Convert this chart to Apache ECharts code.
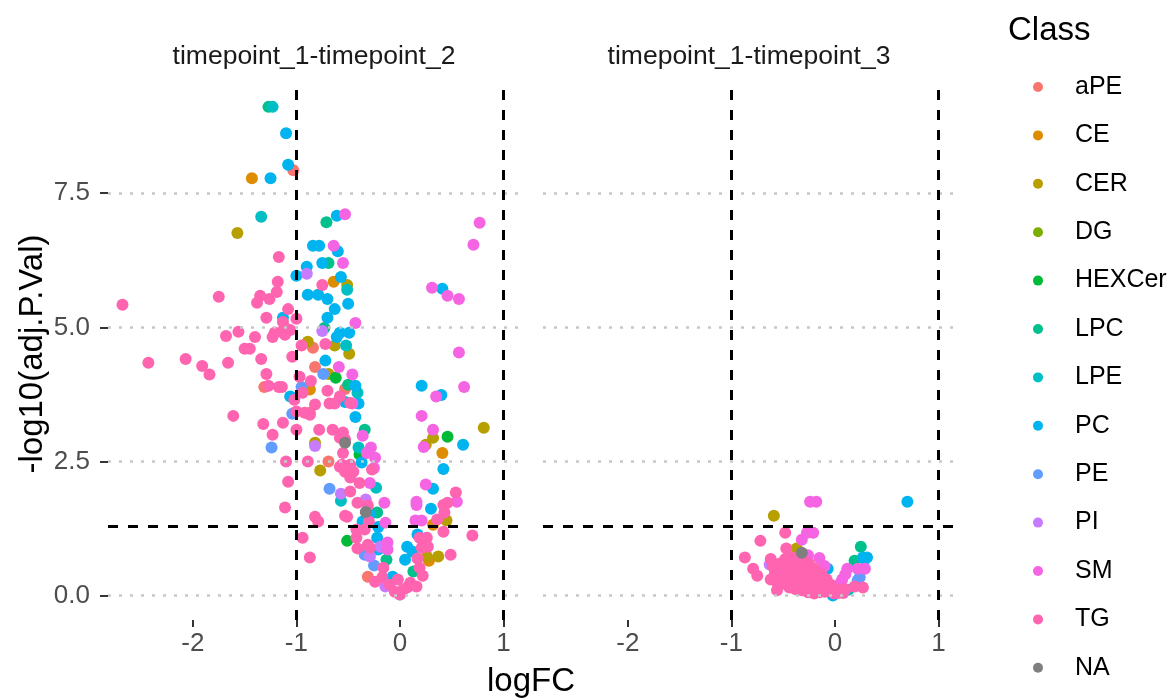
<!DOCTYPE html>
<html>
<head>
<meta charset="utf-8">
<script src="https://cdn.jsdelivr.net/npm/echarts@6/dist/echarts.min.js"></script>
<style>
html, body { margin: 0; padding: 0; background: #fff; }
#chart { width: 1175px; height: 700px; }
</style>
</head>
<body>
<div id="chart"></div>
<script>
// facet labels, classes, ticks
var facets = ['timepoint_1-timepoint_2', 'timepoint_1-timepoint_3'];
var classNames = ['aPE', 'CE', 'CER', 'DG', 'HEXCer', 'LPC', 'LPE', 'PC', 'PE', 'PI', 'SM', 'TG', 'NA'];
var xTicks = [-2, -1, 0, 1];
var yTicks = [0, 2.5, 5, 7.5];
var fcCut = [-1, 1];
var pCut = 1.3;

// [logFC, -log10(adj.P.Val)] - timepoint_1-timepoint_2
var aPE_t2 = [[-1.03,7.93],[-0.84,4.62],[-0.82,4.26],[-0.53,3.85],[-1.31,3.89],[-0.87,3.41],[-0.69,2.50],[-0.31,0.35]];
var CE_t2 = [[-1.43,7.78],[-0.64,5.85],[-0.87,3.84],[0.41,2.66],[0.32,1.32],[0.28,0.65]];
var CER_t2 = [[-1.57,6.76],[-0.51,5.79],[-0.89,4.73],[-0.63,4.66],[-0.49,4.51],[-0.69,4.13],[0.81,3.13],[0.32,2.94],
    [0.25,2.81],[-0.82,2.85],[-0.77,2.33],[0.45,1.40],[0.26,0.73],[0.37,0.73]];
var DG_t2 = [];
var HEXCer_t2 = [[-0.62,4.06],[0.46,2.96],[-0.39,2.63],[-0.51,1.02]];
var LPC_t2 = [[-1.27,9.11],[-0.71,6.96],[-0.69,6.20],[-0.73,4.99],[-0.50,3.93],[-0.34,3.09],[-0.22,1.55],[-0.13,0.67],[0.13,0.45]];
var LPE_t2 = [[-1.23,9.11],[-1.34,7.06],[-0.51,5.70],[-0.52,4.66],[-0.41,3.78],[-0.40,2.76],[-0.57,1.77],[-0.23,2.01]];
var PC_t2 = [[-1.10,8.62],[-1.08,8.03],[-1.25,7.78],[-0.61,7.08],[-0.84,6.52],[-0.78,6.52],[-0.60,6.42],[-0.75,6.20],
    [-0.90,6.13],[-1.00,5.96],[-0.57,5.94],[0.41,5.72],[-0.89,5.61],[-0.79,5.61],[-0.70,5.53],[-0.50,5.44],
    [-0.63,5.34],[-0.70,5.18],[-1.13,5.18],[-0.58,4.90],[-0.49,4.90],[-0.61,4.82],[-0.72,4.38],[-0.43,3.91],
    [-1.06,3.71],[-0.53,3.61],[-0.40,3.58],[-0.43,3.33],[0.21,3.91],[0.40,3.74],[0.61,2.81],[0.42,2.36],
    [-0.37,2.48],[0.32,1.99],[0.30,1.62],[-0.29,1.51],[-0.36,1.38],[-0.21,1.28],[-0.22,1.08],[-0.21,0.86],
    [-0.07,0.35],[0.17,1.14],[0.07,0.91],[0.12,0.82],[0.05,0.67]];
var PE_t2 = [[-0.74,4.13],[-0.95,3.89],[-1.04,3.39],[-1.24,2.76],[-0.68,1.99],[-0.34,0.76],[-0.25,0.56],[0.00,0.02]];
var PI_t2 = [[-0.90,6.00],[-0.75,4.93],[-0.82,2.79],[-0.57,1.90],[-0.33,1.79],[-0.29,0.73],[-0.19,0.91],[-0.14,0.17]];
var SM_t2 = [[-0.53,7.11],[0.77,6.95],[0.71,6.54],[-0.64,6.52],[-0.55,6.20],[0.31,5.74],[0.46,5.59],[0.57,5.53],
    [-0.43,5.08],[-0.59,4.26],[-0.46,4.12],[0.57,4.53],[0.62,3.89],[0.35,3.71],[-0.46,3.58],[0.21,3.35],
    [0.32,3.09],[-0.36,2.98],[0.23,2.77],[-0.28,2.76],[-0.32,2.66],[-0.24,2.57],[-0.25,2.38],[-0.29,2.10],
    [0.25,2.07],[-0.15,1.73],[0.55,1.75],[0.16,1.75],[0.16,1.69],[0.15,1.40],[0.21,1.40],[-0.14,1.36],
    [-0.12,0.99],[-0.12,0.86]];
var TG_t2 = [[-1.17,6.31],[-1.18,5.85],[-2.68,5.42],[-1.75,5.57],[-1.35,5.59],[-1.38,5.46],[-1.26,5.53],[-1.19,5.66],
    [-0.75,5.79],[-1.08,5.34],[-1.29,5.18],[-1.00,5.16],[-1.13,5.10],[-1.68,4.84],[-1.56,4.92],[-1.40,4.82],
    [-1.21,4.90],[-1.23,4.82],[-1.14,4.92],[-1.11,4.86],[-1.06,4.95],[-1.11,4.99],[-0.95,4.66],[-1.50,4.60],
    [-1.45,4.60],[-0.72,4.69],[-2.43,4.34],[-2.07,4.41],[-1.91,4.28],[-1.84,4.12],[-1.66,4.34],[-1.34,4.41],
    [-1.04,4.45],[-1.29,4.13],[-0.97,4.08],[-1.27,3.91],[-1.17,3.89],[-0.86,4.00],[-1.14,3.89],[-0.70,3.82],
    [-0.94,3.78],[-1.02,3.65],[-0.58,3.71],[-0.68,3.58],[-0.63,3.58],[-0.48,3.59],[-0.82,3.56],[-1.00,3.43],
    [-0.92,3.41],[-0.87,3.37],[-1.61,3.35],[-1.32,3.20],[-1.13,3.22],[-1.23,3.00],[-1.00,3.09],[-0.78,3.09],
    [-0.65,3.09],[-0.55,3.04],[-0.58,2.94],[-0.53,2.91],[-1.10,2.50],[-0.89,2.50],[-0.56,2.44],[-0.48,2.44],
    [-0.27,2.35],[-0.55,2.66],[-1.08,2.12],[-1.11,1.64],[-0.82,1.47],[-0.79,1.38],[-0.94,1.08],[-0.87,0.71],
    [-0.58,2.40],[-0.53,2.31],[-0.48,2.20],[-0.45,2.31],[-0.39,2.10],[-0.48,1.94],[-0.41,1.73],[-0.31,1.68],
    [-0.53,1.49],[-0.51,1.47],[-0.30,1.38],[-0.42,1.23],[-0.34,1.23],[-0.42,1.08],[-0.31,0.95],[-0.41,0.88],
    [-0.29,0.89],[-0.16,0.52],[-0.24,0.26],[-0.17,0.34],[-0.05,0.07],[0.00,0.02],[0.07,0.15],[0.10,0.24],
    [0.16,0.17],[0.03,0.11],[-0.10,0.20],[-0.02,0.30],[0.54,1.92],[0.42,1.69],[0.46,1.73],[0.43,1.55],
    [0.36,1.42],[0.42,1.19],[0.70,1.12],[0.19,1.08],[0.26,1.08],[0.27,0.91],[0.21,0.89],[0.49,0.76],
    [0.17,0.69],[0.19,0.52],[0.22,0.37]];
var NA_t2 = [[-0.53,2.85],[-0.33,1.56]];

// [logFC, -log10(adj.P.Val)] - timepoint_1-timepoint_3
var aPE_t3 = [];
var CE_t3 = [];
var CER_t3 = [[-0.59,1.49],[-0.37,0.88]];
var DG_t3 = [];
var HEXCer_t3 = [];
var LPC_t3 = [[0.25,0.91],[0.19,0.65]];
var LPE_t3 = [[0.13,0.11]];
var PC_t3 = [[0.70,1.75],[0.27,0.71],[0.31,0.71],[0.29,0.68],[-0.07,0.50],[-0.31,0.63],[-0.02,0.00]];
var PE_t3 = [[0.24,0.34],[0.22,0.28]];
var PI_t3 = [[-0.63,0.58],[-0.58,0.55]];
var SM_t3 = [[-0.24,1.75],[-0.18,1.75],[-0.27,1.17],[-0.21,1.17],[-0.32,1.04],[0.12,0.50],[0.22,0.50],[0.29,0.50],
    [0.07,0.30],[0.05,0.22],[-0.26,0.75],[-0.15,0.70],[-0.10,0.55],[0.10,0.40]];
var TG_t3 = [[-0.48,1.17],[-0.72,1.02],[-0.47,0.88],[-0.87,0.71],[-0.79,0.50],[-0.75,0.37],[-0.62,0.30],[0.19,0.17],
    [0.27,0.15],[-0.60,0.55],[-0.58,0.42],[-0.56,0.30],[-0.55,0.20],[-0.53,0.60],[-0.52,0.48],[-0.50,0.35],
    [-0.50,0.22],[-0.48,0.68],[-0.47,0.55],[-0.46,0.42],[-0.45,0.30],[-0.44,0.15],[-0.43,0.72],[-0.42,0.60],
    [-0.41,0.48],[-0.40,0.36],[-0.39,0.25],[-0.38,0.12],[-0.37,0.70],[-0.36,0.57],[-0.35,0.44],[-0.34,0.32],
    [-0.33,0.20],[-0.32,0.10],[-0.31,0.66],[-0.30,0.52],[-0.29,0.40],[-0.28,0.28],[-0.27,0.16],[-0.26,0.06],
    [-0.25,0.60],[-0.24,0.46],[-0.23,0.34],[-0.22,0.22],[-0.21,0.11],[-0.20,0.04],[-0.19,0.50],[-0.18,0.38],
    [-0.17,0.26],[-0.16,0.15],[-0.15,0.06],[-0.13,0.40],[-0.12,0.28],[-0.11,0.16],[-0.10,0.07],[-0.08,0.30],
    [-0.07,0.18],[-0.06,0.08],[-0.04,0.20],[-0.03,0.10],[-0.01,0.04],[0.01,0.12],[0.03,0.05],[0.05,0.10],
    [0.08,0.05],[0.10,0.12],[-0.56,0.10],[-0.62,0.68]];
var NA_t3 = [[-0.32,0.80]];

var panelData = [
    [aPE_t2, CE_t2, CER_t2, DG_t2, HEXCer_t2, LPC_t2, LPE_t2, PC_t2, PE_t2, PI_t2, SM_t2, TG_t2, NA_t2],
    [aPE_t3, CE_t3, CER_t3, DG_t3, HEXCer_t3, LPC_t3, LPE_t3, PC_t3, PE_t3, PI_t3, SM_t3, TG_t3, NA_t3]
];

var colors = ['#F8766D', '#DE8C00', '#B79F00', '#7CAE00', '#00BA38', '#00C08B', '#00BFC4',
    '#00B4F0', '#619CFF', '#C77CFF', '#F564E3', '#FF64B0', '#7F7F7F'];
var FONT = '"Liberation Sans", Arial, sans-serif';

var grids = [], xAxes = [], yAxes = [], series = [];
var panelLeft = [108, 543];

for (var i = 0; i < 2; i++) {
    grids.push({ left: panelLeft[i], top: 83, width: 412, height: 537 });
    xAxes.push({
        gridIndex: i, type: 'value', min: -2.82, max: 1.16,
        axisLine: { show: false, onZero: false },
        axisTick: { show: true, customValues: xTicks, length: 7, lineStyle: { color: '#333333', width: 2 } },
        axisLabel: {
            customValues: xTicks, color: '#4D4D4D', fontSize: 26, fontFamily: FONT, margin: 11,
            formatter: function(v) { return String(v); }
        },
        splitLine: { show: false }
    });
    yAxes.push({
        gridIndex: i, type: 'value', min: -0.455, max: 9.555,
        axisLine: { show: false, onZero: false },
        axisTick: { show: i === 0, customValues: yTicks, length: 8, lineStyle: { color: '#333333', width: 2 } },
        axisLabel: {
            show: i === 0, customValues: yTicks, color: '#4D4D4D', fontSize: 26, fontFamily: FONT, margin: 18,
            formatter: function(v) { return v.toFixed(1); }
        },
        splitLine: { show: false }
    });
    // dotted major grid
    series.push({
        type: 'scatter', xAxisIndex: i, yAxisIndex: i, data: [], silent: true, z: 1,
        markLine: {
            silent: true, symbol: 'none', label: { show: false },
            lineStyle: { color: '#C8C8C8', type: [3, 8], width: 2.5 },
            data: yTicks.map(function(v) { return { yAxis: v }; })
        }
    });
    classNames.forEach(function(name, k) {
        series.push({
            name: name, type: 'scatter', xAxisIndex: i, yAxisIndex: i,
            data: panelData[i][k], symbolSize: 12, z: 2,
            itemStyle: { color: colors[k], opacity: 1 }
        });
    });
    // thresholds
    series.push({
        type: 'scatter', xAxisIndex: i, yAxisIndex: i, data: [], silent: true, z: 5,
        markLine: {
            silent: true, symbol: 'none', label: { show: false },
            lineStyle: { color: '#000000', type: [10, 10], width: 3 },
            data: fcCut.map(function(v) { return { xAxis: v }; }).concat([{ yAxis: pCut }])
        }
    });
}

var chart = echarts.init(document.getElementById('chart'));
chart.setOption({
    animation: false,
    backgroundColor: '#ffffff',
    grid: grids,
    xAxis: xAxes,
    yAxis: yAxes,
    legend: {
        orient: 'vertical', left: 1028, top: 67,
        icon: 'circle', itemWidth: 10, itemHeight: 10, itemGap: 18.4,
        selectedMode: false,
        data: classNames,
        textStyle: { fontSize: 25, lineHeight: 30, color: '#000000', fontFamily: FONT, padding: [0, 0, 0, 27] }
    },
    graphic: [
        { type: 'text', x: 314, y: 57, style: { text: facets[0], align: 'center', verticalAlign: 'middle', font: '26.5px ' + FONT, fill: '#1A1A1A' } },
        { type: 'text', x: 749, y: 57, style: { text: facets[1], align: 'center', verticalAlign: 'middle', font: '26.5px ' + FONT, fill: '#1A1A1A' } },
        { type: 'text', x: 1008, y: 31, style: { text: 'Class', align: 'left', verticalAlign: 'middle', font: '33px ' + FONT, fill: '#000000' } },
        { type: 'text', x: 531, y: 682, style: { text: 'logFC', align: 'center', verticalAlign: 'middle', font: '33px ' + FONT, fill: '#000000' } },
        { type: 'text', x: 33, y: 354, rotation: Math.PI / 2, style: { text: '-log10(adj.P.Val)', align: 'center', verticalAlign: 'middle', font: '33px ' + FONT, fill: '#000000' } }
    ],
    series: series
});
</script>
</body>
</html>
